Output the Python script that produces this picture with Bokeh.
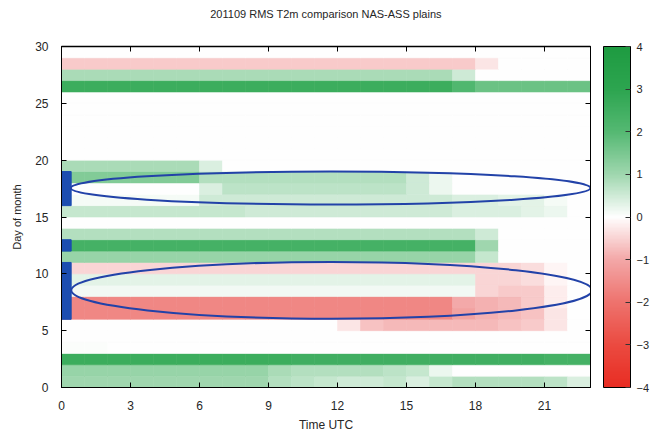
import numpy as np
from bokeh.plotting import figure
from bokeh.models import (Range1d, LinearAxis, FixedTicker, LinearColorMapper,
                          ColorBar, ColumnDataSource)
from bokeh.embed import file_html
from bokeh.resources import INLINE

# ---------------- data ----------------
title_text = "201109 RMS T2m comparison NAS-ASS plains"
x_label = "Time UTC"
y_label = "Day of month"
hours = list(range(23))          # column start hour (0..22)
days = list(range(30))           # row start day (0..29)
x_ticks = [0, 3, 6, 9, 12, 15, 18, 21]
y_ticks = [0, 5, 10, 15, 20, 25, 30]
cbar_ticks = [-4, -3, -2, -1, 0, 1, 2, 3, 4]
value_low, value_high = -4, 4

# RMS difference, one row per day (index = day), one value per hour 0..22
rms_diff = [
    [1.0, 1.0, 1.0, 1.0, 1.0, 1.0, 1.0, 1.0, 1.0, 0.8, 0.7, 0.6, 0.5, 0.5, 0.6, 0.4, 0.6, 0.8, 0.8, 0.8, 0.8, 0.7, 0.4],  # 0
    [1.1, 1.1, 1.1, 1.1, 1.1, 1.1, 1.1, 1.1, 1.1, 0.9, 0.8, 0.8, 0.8, 0.8, 0.7, 0.6, 0.2, 0.0, 0.0, 0.0, 0.0, 0.0, 0.0],  # 1
    [2.6, 2.6, 2.6, 2.6, 2.6, 2.6, 2.6, 2.6, 2.6, 2.6, 2.5, 2.5, 2.5, 2.5, 2.5, 2.5, 2.5, 2.5, 2.5, 2.5, 2.5, 2.4, 2.4],  # 2
    [0.05, 0.05, 0.0, 0.0, 0.0, 0.0, 0.0, 0.0, 0.0, 0.0, 0.0, 0.0, 0.0, 0.0, 0.0, 0.0, 0.0, 0.0, 0.0, 0.0, 0.0, 0.0, 0.0],  # 3
    [0.0, 0.0, 0.0, 0.0, 0.0, 0.0, 0.0, 0.0, 0.0, 0.0, 0.0, 0.0, 0.0, 0.0, 0.0, 0.0, 0.0, 0.0, 0.0, 0.0, 0.0, 0.0, 0.0],  # 4
    [0.0, 0.0, 0.0, 0.0, 0.0, 0.0, 0.0, 0.0, 0.0, 0.0, 0.0, 0.0, -0.3, -0.7, -0.8, -0.8, -0.8, -0.8, -0.8, -0.7, -0.6, -0.3, 0.0],  # 5
    [-1.6, -1.6, -1.6, -1.6, -1.6, -1.6, -1.6, -1.6, -1.6, -1.6, -1.6, -1.6, -1.6, -1.6, -1.6, -1.6, -1.6, -1.1, -0.9, -0.8, -0.7, -0.3, 0.0],  # 6
    [-1.6, -1.6, -1.6, -1.6, -1.6, -1.6, -1.6, -1.6, -1.6, -1.6, -1.6, -1.6, -1.6, -1.6, -1.6, -1.6, -1.6, -1.0, -0.9, -0.8, -0.6, -0.2, 0.0],  # 7
    [0.15, 0.15, 0.15, 0.15, 0.15, 0.15, 0.15, 0.15, 0.15, 0.15, 0.15, 0.15, 0.15, 0.15, 0.15, 0.15, 0.15, 0.15, -0.5, -0.6, -0.6, -0.2, 0.0],  # 8
    [0.3, 0.3, 0.3, 0.3, 0.3, 0.3, 0.3, 0.3, 0.3, 0.3, 0.3, 0.3, 0.3, 0.3, 0.3, 0.3, 0.3, 0.3, -0.5, -0.5, -0.4, -0.1, 0.0],  # 9
    [-0.5, -0.5, -0.5, -0.5, -0.5, -0.5, -0.5, -0.5, -0.5, -0.5, -0.5, -0.5, -0.5, -0.5, -0.5, -0.5, -0.5, -0.5, -0.5, -0.5, -0.4, -0.1, 0.0],  # 10
    [1.1, 1.1, 1.1, 1.1, 1.1, 1.1, 1.1, 1.1, 1.1, 1.1, 1.1, 1.1, 1.1, 1.1, 1.1, 1.1, 1.1, 1.1, 0.6, 0.0, 0.0, 0.0, 0.0],  # 11
    [2.4, 2.4, 2.4, 2.4, 2.4, 2.4, 2.4, 2.4, 2.4, 2.4, 2.4, 2.4, 2.4, 2.4, 2.4, 2.4, 2.4, 2.4, 1.0, 0.0, 0.0, 0.0, 0.0],  # 12
    [0.8, 0.8, 0.8, 0.8, 0.8, 0.8, 0.8, 0.8, 0.8, 0.8, 0.8, 0.8, 0.8, 0.8, 0.8, 0.8, 0.8, 0.8, 0.5, 0.0, 0.0, 0.0, 0.0],  # 13
    [0.0, 0.0, 0.0, 0.0, 0.0, 0.0, 0.0, 0.0, 0.0, 0.0, 0.0, 0.0, 0.0, 0.0, 0.0, 0.0, 0.0, 0.0, 0.0, 0.0, 0.0, 0.0, 0.0],  # 14
    [0.6, 0.6, 0.6, 0.6, 0.6, 0.6, 0.6, 0.6, 0.5, 0.5, 0.5, 0.5, 0.5, 0.5, 0.5, 0.5, 0.5, 0.4, 0.4, 0.4, 0.3, 0.2, 0.0],  # 15
    [0.1, 0.1, 0.1, 0.1, 0.1, 0.1, 0.5, 0.5, 0.5, 0.5, 0.5, 0.5, 0.5, 0.5, 0.5, 0.5, 0.5, 0.4, 0.4, 0.3, 0.3, 0.1, 0.0],  # 16
    [0.0, 0.0, 0.0, 0.0, 0.0, 0.0, 0.4, 0.7, 0.7, 0.7, 0.7, 0.7, 0.7, 0.7, 0.7, 0.5, 0.2, 0.0, 0.0, 0.0, 0.0, 0.0, 0.0],  # 17
    [1.4, 1.4, 1.4, 1.4, 1.4, 1.4, 0.8, 0.8, 0.8, 0.8, 0.8, 0.8, 0.8, 0.8, 0.8, 0.5, 0.2, 0.0, 0.0, 0.0, 0.0, 0.0, 0.0],  # 18
    [0.9, 0.9, 0.9, 0.9, 0.9, 0.9, 0.4, 0.0, 0.0, 0.0, 0.0, 0.0, 0.0, 0.0, 0.0, 0.0, 0.0, 0.0, 0.0, 0.0, 0.0, 0.0, 0.0],  # 19
    [0.02, 0.02, 0.02, 0.02, 0.02, 0.02, 0.02, 0.02, 0.02, 0.02, 0.02, 0.02, 0.02, 0.02, 0.02, 0.02, 0.02, 0.02, 0.02, 0.02, 0.02, 0.02, 0.02],  # 20
    [0.02, 0.02, 0.02, 0.02, 0.02, 0.02, 0.02, 0.02, 0.02, 0.02, 0.02, 0.02, 0.02, 0.02, 0.02, 0.02, 0.02, 0.02, 0.02, 0.02, 0.02, 0.02, 0.02],  # 21
    [0.02, 0.02, 0.02, 0.02, 0.02, 0.02, 0.02, 0.02, 0.02, 0.02, 0.02, 0.02, 0.02, 0.02, 0.02, 0.02, 0.02, 0.02, 0.02, 0.02, 0.02, 0.02, 0.02],  # 22
    [0.02, 0.02, 0.02, 0.02, 0.02, 0.02, 0.02, 0.02, 0.02, 0.02, 0.02, 0.02, 0.02, 0.02, 0.02, 0.02, 0.02, 0.02, 0.02, 0.02, 0.02, 0.02, 0.02],  # 23
    [0.02, 0.02, 0.02, 0.02, 0.02, 0.02, 0.02, 0.02, 0.02, 0.02, 0.02, 0.02, 0.02, 0.02, 0.02, 0.02, 0.02, 0.02, 0.02, 0.02, 0.02, 0.02, 0.02],  # 24
    [0.02, 0.02, 0.02, 0.02, 0.02, 0.02, 0.02, 0.02, 0.02, 0.02, 0.02, 0.02, 0.02, 0.02, 0.02, 0.02, 0.02, 0.02, 0.02, 0.02, 0.02, 0.02, 0.02],  # 25
    [2.6, 2.6, 2.6, 2.6, 2.6, 2.6, 2.6, 2.6, 2.6, 2.6, 2.6, 2.6, 2.6, 2.6, 2.6, 2.6, 2.6, 2.1, 1.7, 1.7, 1.7, 1.7, 1.7],  # 26
    [0.9, 0.9, 0.9, 0.9, 0.9, 0.9, 0.9, 0.9, 0.9, 0.9, 0.9, 0.9, 0.9, 0.9, 0.9, 0.9, 0.9, 0.5, 0.0, 0.0, 0.0, 0.0, 0.0],  # 27
    [-0.6, -0.6, -0.6, -0.6, -0.6, -0.6, -0.6, -0.6, -0.6, -0.6, -0.6, -0.6, -0.6, -0.6, -0.6, -0.6, -0.6, -0.6, -0.3, 0.0, 0.0, 0.0, 0.0],  # 28
    [0.0, 0.0, 0.0, 0.0, 0.0, 0.0, 0.0, 0.0, 0.0, 0.0, 0.0, 0.0, 0.0, 0.0, 0.0, 0.0, 0.0, 0.0, 0.0, 0.0, 0.0, 0.0, 0.0],  # 29
]

# blue day markers at hour 0 (day ranges)
marker_bottom = [6, 12, 16]
marker_top = [11, 13, 19]
marker_left = [0, 0, 0]
marker_right = [0.42, 0.42, 0.42]

# highlight ellipses
ellipse_x = [11.7, 11.75]
ellipse_y = [17.55, 8.55]
ellipse_w = [22.6, 22.65]
ellipse_h = [2.9, 5.0]

# ---------------- colour map (style) ----------------
anchor_vals = [-4, -3, -2, -1, 0, 1, 2, 3, 4]
anchor_rgb = [(232, 45, 35), (235, 75, 65), (238, 115, 110), (243, 168, 168),
              (255, 255, 255), (160, 215, 175), (85, 185, 115), (45, 165, 80), (30, 155, 65)]
grid = np.linspace(-4, 4, 256)
arr = np.array(anchor_rgb, dtype=float)
palette = []
for g in grid:
    r = int(round(np.interp(g, anchor_vals, arr[:, 0])))
    gg = int(round(np.interp(g, anchor_vals, arr[:, 1])))
    b = int(round(np.interp(g, anchor_vals, arr[:, 2])))
    palette.append("#%02x%02x%02x" % (r, gg, b))
mapper = LinearColorMapper(palette=palette, low=value_low, high=value_high)

# ---------------- source ----------------
cx, cy, cv = [], [], []
for d in days:
    for h in hours:
        cx.append(h + 0.5)
        cy.append(d + 0.5)
        cv.append(rms_diff[d][h])
src = ColumnDataSource(dict(x=cx, y=cy, v=cv))

FONT = "Liberation Sans"
TXT = "#262626"

p = figure(width=652, height=435, x_range=Range1d(0, 23), y_range=Range1d(0, 30),
           output_backend="svg", toolbar_location=None, title=title_text,
           min_border_left=61, min_border_right=62, min_border_top=45, min_border_bottom=48)
p.background_fill_color = "white"
p.border_fill_color = "white"
p.outline_line_color = "black"
p.outline_line_width = 1
p.xgrid.visible = False
p.ygrid.visible = False

p.title.align = "center"
p.title.text_font = FONT
p.title.text_font_size = "11px"
p.title.text_font_style = "normal"
p.title.text_color = TXT

p.rect(x="x", y="y", width=1, height=1, source=src,
       fill_color={"field": "v", "transform": mapper},
       line_color={"field": "v", "transform": mapper}, line_width=0.6)

p.quad(left=marker_left, right=marker_right, bottom=marker_bottom, top=marker_top,
       fill_color="#1c4db0", line_color="#1c4db0")

p.ellipse(x=ellipse_x, y=ellipse_y, width=ellipse_w, height=ellipse_h,
          fill_color=None, line_color="#2242a8", line_width=2)

xa = p.xaxis[0]
ya = p.yaxis[0]
xa.ticker = FixedTicker(ticks=x_ticks)
ya.ticker = FixedTicker(ticks=y_ticks)
for ax in (xa, ya):
    ax.major_tick_in = 5
    ax.major_tick_out = 0
    ax.minor_tick_line_color = None
    ax.axis_line_color = "black"
    ax.major_tick_line_color = "black"
    ax.major_label_text_font = FONT
    ax.major_label_text_font_size = "12px"
    ax.major_label_text_color = TXT
    ax.axis_label_text_font = FONT
    ax.axis_label_text_font_size = "12px"
    ax.axis_label_text_font_style = "normal"
    ax.axis_label_text_color = TXT
xa.axis_label = x_label
ya.axis_label = y_label
ya.axis_label_text_font_size = "11px"
xa.major_label_standoff = 13
xa.axis_label_standoff = 5
ya.major_label_standoff = 13
ya.axis_label_standoff = 9

# mirrored inward ticks; blank labels only reserve spacing
top_ax = LinearAxis(ticker=FixedTicker(ticks=x_ticks), major_tick_in=5, major_tick_out=0,
                    minor_tick_line_color=None,
                    major_label_overrides={t: " " for t in x_ticks},
                    major_label_text_font_size="11px", major_label_standoff=7,
                    axis_line_color="black", axis_line_width=1.5, major_tick_line_color="black")
right_ax = LinearAxis(ticker=FixedTicker(ticks=y_ticks), major_tick_in=5, major_tick_out=0,
                      minor_tick_line_color=None,
                      major_label_overrides={t: " " for t in y_ticks},
                      major_label_text_font_size="11px", major_label_standoff=7,
                      axis_line_color="black", major_tick_line_color="black")
p.add_layout(top_ax, "above")
p.add_layout(right_ax, "right")

cbar = ColorBar(color_mapper=mapper, ticker=FixedTicker(ticks=cbar_ticks),
                width=27, margin=0, padding=0, label_standoff=6,
                major_label_text_font=FONT, major_label_text_font_size="11px",
                major_label_text_color=TXT,
                major_tick_in=5, major_tick_out=0, major_tick_line_color="#333333",
                minor_tick_line_color=None, bar_line_color="black",
                border_line_color=None, background_fill_color=None)
p.add_layout(cbar, "right")

open("out.html", "w").write(file_html(p, INLINE))
